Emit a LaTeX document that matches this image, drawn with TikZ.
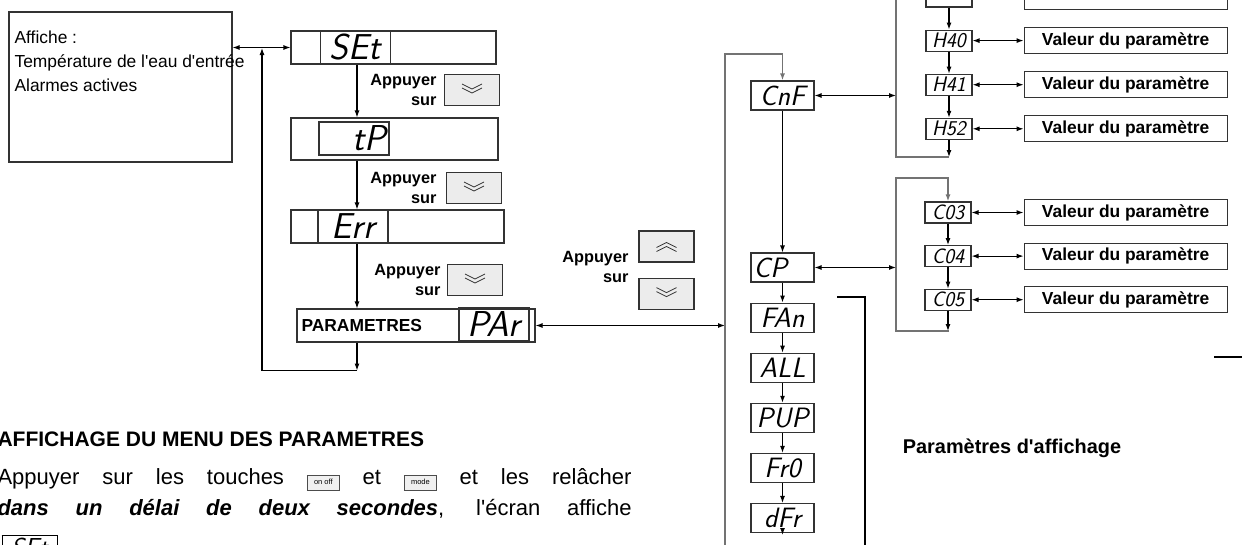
\documentclass[tikz,border=0pt]{standalone}
\usepackage{fontspec}
\setmainfont{Liberation Sans}
\usepackage{tikz}
\usetikzlibrary{positioning,arrows.meta}
\newcommand\touche[1]{{\setlength\fboxsep{3pt}\fcolorbox{black!70}{gray!12}{\makebox[26pt]{\rule[-2pt]{0pt}{8pt}\fontsize{7.5}{8}\selectfont #1}}}}

\begin{document}
\begin{tikzpicture}[x=1pt, y=-1pt, line width=1.1pt,
  box/.style={draw=black!80, inner sep=0pt},
  row/.style={box, minimum height=33pt},
  dsp/.style={box, minimum width=70pt, minimum height=33pt, font=\sffamily\itshape\fontsize{36}{36}\selectfont},
  cell/.style={box, minimum width=63pt, minimum height=29pt, font=\sffamily\itshape\fontsize{28}{28}\selectfont},
  prm/.style={box, minimum width=46pt, minimum height=21pt, font=\sffamily\itshape\fontsize{21}{21}\selectfont},
  val/.style={box, minimum width=203pt, minimum height=26pt, font=\bfseries\fontsize{17.4}{20}\selectfont},
  btn/.style={box, fill=gray!15, minimum width=55pt, minimum height=31pt},
  chev/.style={line width=0.8pt},
  dnbtn/.style={btn, path picture={
    \draw[chev] ([shift={(-10,-6)}]path picture bounding box.center) -- ++(10,5) -- ++(10,-5);
    \draw[chev] ([shift={(-10,-2)}]path picture bounding box.center) -- ++(10,5) -- ++(10,-5);}},
  upbtn/.style={btn, path picture={
    \draw[chev] ([shift={(-10,1)}]path picture bounding box.center) -- ++(10,-5) -- ++(10,5);
    \draw[chev] ([shift={(-10,5)}]path picture bounding box.center) -- ++(10,-5) -- ++(10,5);}},
  lab/.style={align=right, inner sep=0pt, font=\bfseries\fontsize{16.3}{20}\selectfont},
  arr/.style={-{Latex[length=7pt,width=5pt]}},
  dbl/.style={{Latex[length=7pt,width=5pt]}-{Latex[length=7pt,width=5pt]}},
  ret/.style={draw=black!55, line width=1.6pt}]
\useasboundingbox (0,0) rectangle (1242,544);
\clip (0,0) rectangle (1242,544);

\node[box, minimum width=223pt, minimum height=150pt] (aff) at (120.5,87) {};
\node[anchor=north west, align=left, inner sep=0pt, font=\fontsize{17.4}{24}\selectfont] (afftxt) at (14,30)
  {Affiche :\\Température de l\textquotesingle eau d\textquotesingle entrée\\Alarmes actives};

\node[row, minimum width=205pt] (setrow) at (393.5,47.5) {};
\node[dsp] (set) at (355.5,47.5) {SEt};
\node[row, minimum width=207pt, minimum height=42pt] (tprow) at (394.5,139) {};
\node[dsp, text width=64pt, align=right] (tp) at (354,138.5) {tP};
\node[row, minimum width=213pt] (errrow) at (397.5,226.5) {};
\node[dsp] (err) at (353,226.5) {Err};
\node[row, minimum width=238pt] (parrow) at (416,325.5) {};
\node[anchor=west, inner sep=0pt, font=\bfseries\fontsize{17.4}{20}\selectfont] (partxt) at (301,326) {PARAMETRES};
\node[dsp] (par) at (494,324.5) {PAr};

\node[lab, anchor=east] (ap1) at (437,90) {Appuyer\\sur};
\node[dnbtn, right=7pt of ap1] (b1) {};
\node[lab, anchor=east] (ap2) at (437,188) {Appuyer\\sur};
\node[dnbtn, right=9pt of ap2] (b2) {};
\node[lab, anchor=east] (ap3) at (441,280) {Appuyer\\sur};
\node[dnbtn, right=6pt of ap3] (b3) {};
\node[lab, anchor=east] (ap4) at (629,266.5) {Appuyer\\sur};
\node[upbtn] (b4) at (666.5,246.5) {};
\node[dnbtn, below=15pt of b4] (b5) {};

\coordinate (jn) at (262,48);
\coordinate (colx) at (357,0);
\coordinate (railtop) at (725,54);
\coordinate (railbot) at (725,560);
\draw[dbl] (aff.east |- setrow.west) -- (setrow.west);
\draw[arr] (colx |- setrow.south) -- (colx |- tprow.north);
\draw[arr] (colx |- tprow.south) -- (colx |- errrow.north);
\draw[arr] (colx |- errrow.south) -- (colx |- parrow.north);
\draw[arr] (colx |- parrow.south) -- ++(0,28) coordinate (lp);
\draw[arr] (lp) -| (jn);
\draw[dbl] (parrow) -- (parrow -| railtop);

\node[cell] (cnf) at (782.5,95.5) {CnF};
\node[cell, text width=58pt, align=left] (cp) at (782.5,267.5) {CP};
\node[cell, below=20pt of cp] (fan) {FAn};
\node[cell, below=20pt of fan] (all) {ALL};
\node[cell, below=20pt of all] (pup) {PUP};
\node[cell, below=20pt of pup] (fr0) {Fr0};
\node[cell, below=20pt of fr0] (dfr) {dFr};
\draw[ret, arr] (railbot) -- (railtop) -| (cnf);
\draw[arr] (cnf) -- (cp);
\draw[arr] (cp) -- (fan);
\draw[arr] (fan) -- (all);
\draw[arr] (all) -- (pup);
\draw[arr] (pup) -- (fr0);
\draw[arr] (fr0) -- (dfr);
\draw[arr] (dfr) -- ++(0,17);

\coordinate (htop) at (896,-10);
\coordinate (hbot) at (949,157);
\node[prm] (hprev) at (949,-3.5) {};
\node[prm, below=22pt of hprev] (h40) {H40};
\node[prm, below=22pt of h40] (h41) {H41};
\node[prm, below=22pt of h41] (h52) {H52};
\node[val, right=51pt of hprev] (vprev) {};
\node[val, right=51pt of h40] (v40) {Valeur du paramètre};
\node[val, right=51pt of h41] (v41) {Valeur du paramètre};
\node[val, right=51pt of h52] (v52) {Valeur du paramètre};
\draw[arr] (hprev) -- (h40);
\draw[arr] (h40) -- (h41);
\draw[arr] (h41) -- (h52);
\draw[arr] (h52) -- (hbot);
\draw[ret] (hbot) -| (htop);
\draw[dbl] (h40) -- (v40);
\draw[dbl] (h41) -- (v41);
\draw[dbl] (h52) -- (v52);
\draw[dbl] (cnf) -- (cnf -| htop);

\coordinate (ctop) at (896,178);
\coordinate (cbot) at (949,331);
\node[prm] (c03) at (948,212.5) {C03};
\node[prm, below=21.5pt of c03] (c04) {C04};
\node[prm, below=21.5pt of c04] (c05) {C05};
\node[val, right=52pt of c03] (v03) {Valeur du paramètre};
\node[val, right=52pt of c04] (v04) {Valeur du paramètre};
\node[val, right=52pt of c05] (v05) {Valeur du paramètre};
\draw[arr] (c03) -- (c04);
\draw[arr] (c04) -- (c05);
\draw[arr] (c05) -- (c05 |- cbot);
\draw[ret, arr] (cbot) -| (ctop) -| (c03);
\draw[dbl] (c03) -- (v03);
\draw[dbl] (c04) -- (v04);
\draw[dbl] (c05) -- (v05);
\draw[dbl] (cp) -- (cp -| ctop);

\coordinate (brk) at (837,297);
\coordinate (brkbot) at (865,560);
\draw (brk) -| (brkbot);
\node[font=\bfseries\fontsize{19.9}{22}\selectfont] (disp) at (1012,448) {Paramètres d\textquotesingle affichage};
\coordinate (rl) at (1214,357);
\draw (rl) -- ++(40,0);

\node[anchor=base west, inner sep=0pt, font=\bfseries\fontsize{21}{25}\selectfont] (head) at (-3,446)
  {AFFICHAGE DU MENU DES PARAMETRES};
\node[anchor=north west, inner sep=0pt, text width=634pt, align=justify, font=\fontsize{22}{31}\selectfont] (txt) at (-3,468)
  {\noindent Appuyer sur les touches \touche{on off} et \touche{mode} et les relâcher\linebreak
   \textbf{\textit{dans un délai de deux secondes}}, l\textquotesingle écran affiche\linebreak
   \hspace*{4pt}\raisebox{-10pt}{\framebox[56pt]{\sffamily\itshape\fontsize{26}{26}\selectfont SEt}}};
\end{tikzpicture}
\end{document}
